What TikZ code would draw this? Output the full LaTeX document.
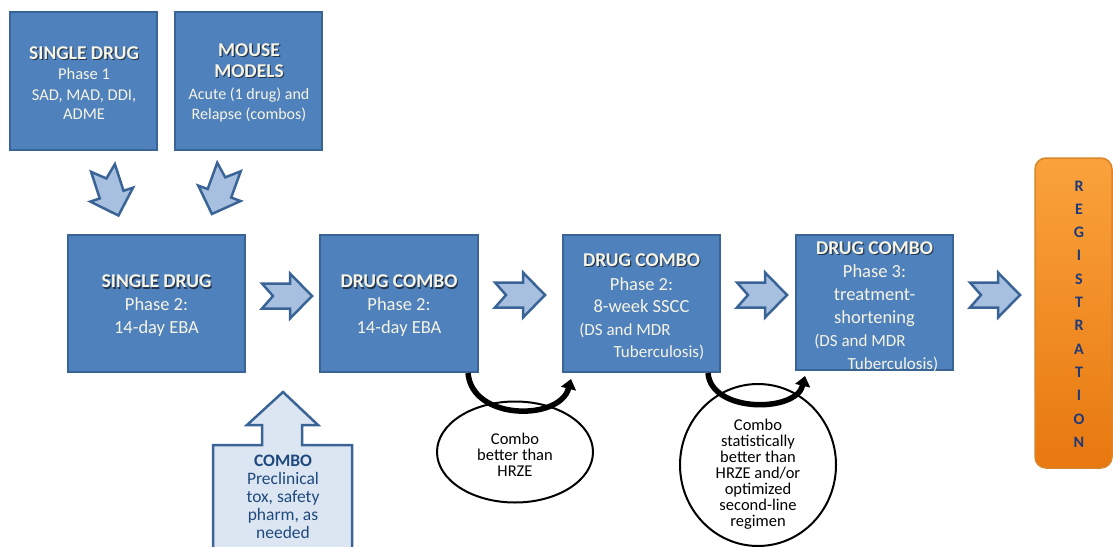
\documentclass[tikz,border=0pt]{standalone}
\usepackage{fontspec}
\setmainfont{Carlito}
\usetikzlibrary{arrows.meta,shadings,shapes.geometric}
\definecolor{boxblue}{HTML}{4F81BD}
\definecolor{boxline}{HTML}{3A6496}
\definecolor{boxtext}{HTML}{F6F4E4}
\definecolor{shadowc}{HTML}{24364F}
\definecolor{arrfill}{HTML}{A7C0DF}
\definecolor{arrline}{HTML}{3B6496}
\definecolor{combofill}{HTML}{DCE6F2}
\definecolor{combotext}{HTML}{1F497D}
\definecolor{regtop}{HTML}{FAA23C}
\definecolor{regbot}{HTML}{E8780F}
\definecolor{regline}{HTML}{D9852A}
\definecolor{regtext}{HTML}{1F3A78}
\tikzset{
  bluebox/.style={draw=boxline, line width=2pt, fill=boxblue, inner sep=0pt},
  boxtxt/.style={text=boxtext, align=center, inner sep=0pt},
  notcharrow/.style={draw=arrline, line width=2.5pt, fill=arrfill, line join=miter},
  notch/.pic={\path[notcharrow] (0,-12.5) -- (28,-12.5) -- (28,-22.5) -- (50,0) -- (28,22.5) -- (28,12.5) -- (0,12.5) -- (11,0) -- cycle;},
  oval/.style={draw=black, line width=2pt, fill=white, ellipse, inner sep=0pt},
  ovaltxt/.style={align=center, inner sep=0pt, font=\fontsize{16.5}{16}\selectfont},
  curvearrow/.style={line width=5.5pt, -{Triangle[length=10pt,width=15pt]}}
}
\newcommand{\shd}[1]{\leavevmode\rlap{\hspace{1.2pt}\raisebox{-1.2pt}{\textcolor{shadowc}{#1}}}#1}
\newcommand{\ttlA}[1]{{\bfseries\fontsize{19.5}{22}\selectfont\shd{#1}}}
\newcommand{\smallln}[1]{{\fontsize{17}{19}\selectfont #1}}
\begin{document}
\begin{tikzpicture}[x=1pt,y=-1pt]
\useasboundingbox (0,0) rectangle (1113,546);
% top boxes
\node[bluebox, minimum width=147pt, minimum height=138pt] (A) at (83.5,81) {};
\node[boxtxt, font=\fontsize{16.5}{19.5}\selectfont] (At) at (84,83)
  {\ttlA{SINGLE DRUG}\\[1pt]Phase 1\\[1pt]SAD, MAD, DDI,\\ADME};
\node[bluebox, minimum width=147pt, minimum height=138pt] (B) at (248.5,81) {};
\node[boxtxt, font=\fontsize{16}{20}\selectfont] (Bt) at (249,82.5)
  {\ttlA{MOUSE}\\[1pt]\ttlA{MODELS}\\[2pt]Acute (1 drug) and\\Relapse (combos)};
% down arrows
\pic[rotate=-72] at (103,168) {notch};
\pic[rotate=-110] at (229,167) {notch};
% main row
\node[bluebox, minimum width=177pt, minimum height=137pt] (C) at (156.5,303.5) {};
\node[boxtxt, font=\fontsize{18.5}{23}\selectfont] (Ct) at (156.5,306)
  {\ttlA{SINGLE DRUG}\\Phase 2:\\14-day EBA};
\node[bluebox, minimum width=158pt, minimum height=137pt] (D) at (399,303.5) {};
\node[boxtxt, font=\fontsize{18.5}{23}\selectfont] (Dt) at (399,306)
  {\ttlA{DRUG COMBO}\\Phase 2:\\14-day EBA};
\node[bluebox, minimum width=157pt, minimum height=137pt] (E) at (641.5,303.5) {};
\node[boxtxt, font=\fontsize{18.5}{22.5}\selectfont] (Et) at (641.5,307)
  {\ttlA{DRUG COMBO}\\[1pt]Phase 2:\\8-week SSCC\\\smallln{\hspace*{-33pt}(DS and MDR}\\\smallln{\hspace*{35pt}Tuberculosis)}};
\node[bluebox, minimum width=157pt, minimum height=135pt] (F) at (874.5,302.5) {};
\node[boxtxt, font=\fontsize{18.5}{23}\selectfont] (Ft) at (874.5,306.5)
  {\ttlA{DRUG COMBO}\\Phase 3:\\treatment-\\shortening\\\smallln{\hspace*{-29pt}(DS and MDR}\\\smallln{\hspace*{37pt}Tuberculosis)}};
% right arrows
\pic at (262,296) {notch};
\pic at (495,295) {notch};
\pic at (737,295) {notch};
\pic at (970,295) {notch};
% registration
\node[draw=regline, line width=1.5pt, rounded corners=11pt, top color=regtop, bottom color=regbot,
      minimum width=77pt, minimum height=310pt, inner sep=0pt] (R) at (1073.5,313) {};
\node[text=regtext, align=center, font=\bfseries\fontsize{16}{23.3}\selectfont] (RT) at (1079,314)
  {R\\E\\G\\I\\S\\T\\R\\A\\T\\I\\O\\N};
% combo up arrow
\path[draw=boxline, line width=2.5pt, fill=combofill, line join=miter]
  (213,560) -- (213,445) -- (262,445) -- (262,425) -- (247,425) -- (283,392) -- (318,425) -- (302,425) -- (302,445) -- (352,445) -- (352,560) -- cycle;
\node[text=combotext, align=center, inner sep=0pt, font=\fontsize{17.5}{18}\selectfont] (CB) at (283,497)
  {{\bfseries COMBO}\\Preclinical\\tox, safety\\pharm, as\\needed};
% ovals
\node[oval, minimum width=156pt, minimum height=101pt] (O1) at (515,452) {};
\node[ovaltxt] (O1t) at (515,455) {Combo\\better than\\HRZE};
\node[oval, minimum width=156pt, minimum height=162pt] (O2) at (758,465) {};
\node[ovaltxt] (O2t) at (758,474) {Combo\\statistically\\better than\\HRZE and/or\\optimized\\second-line\\regimen};
% curved arrows
\coordinate (c1s) at ([xshift=-11pt]D.south east);
\coordinate (c1e) at ([xshift=9pt,yshift=-6pt]E.south west);
\draw[curvearrow] (c1s) .. controls (472,421) and (560,421) .. (c1e);
\coordinate (c2s) at ([xshift=-13pt]E.south east);
\coordinate (c2e) at ([xshift=10pt,yshift=-5pt]F.south west);
\draw[curvearrow] (c2s) .. controls (711,413) and (796,413) .. (c2e);
\end{tikzpicture}
\end{document}
